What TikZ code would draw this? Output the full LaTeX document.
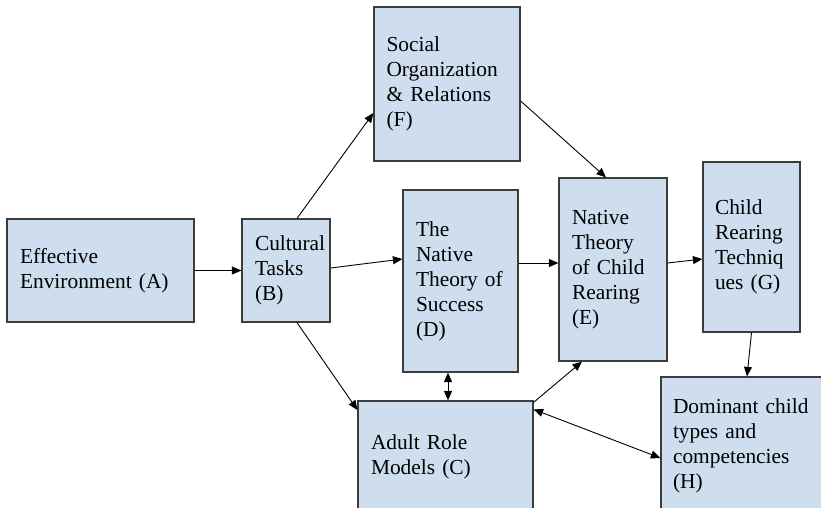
\documentclass[tikz,border=0pt]{standalone}
\usepackage{fontspec}
\setmainfont{Liberation Serif}
\usetikzlibrary{arrows.meta}
\definecolor{boxfill}{RGB}{207,222,238}
\definecolor{boxline}{RGB}{60,60,60}
\tikzset{
  card/.style={draw=boxline, line width=1.2pt, fill=boxfill, inner xsep=13pt, inner ysep=0pt,
    align=left, font=\fontsize{21.4}{25}\selectfont, anchor=center},
  link/.style={line width=0.9pt, draw=black, -{Triangle[length=9.5pt,width=8pt]}},
  duallink/.style={line width=0.9pt, draw=black, {Triangle[length=9.5pt,width=8pt]}-{Triangle[length=9.5pt,width=8pt]}}
}
\begin{document}
\begin{tikzpicture}[x=1pt,y=-1pt]
\useasboundingbox (0,0) rectangle (821,507);
\node[card, minimum width=187pt, minimum height=103pt, text width=161pt] (A) at (100.5,270.5) {Effective\\Environment (A)};
\node[card, minimum width=88pt, minimum height=103pt, text width=62pt] (B) at (286,270.5) {Cultural\\Tasks\\(B)};
\node[card, minimum width=146pt, minimum height=154pt, text width=121pt, inner xsep=12pt] (F) at (447,84) {Social\\Organization\\\& Relations\\(F)};
\node[card, minimum width=115pt, minimum height=182pt, text width=89pt] (D) at (460.5,281) {The\\Native\\Theory of\\Success\\(D)};
\node[card, minimum width=108pt, minimum height=183pt, text width=82pt] (E) at (613,269.5) {Native\\Theory\\of Child\\Rearing\\(E)};
\node[card, minimum width=97pt, minimum height=170pt, text width=73pt, inner xsep=12pt] (G) at (751.5,247) {Child\\Rearing\\Techniq\\ues (G)};
\node[card, minimum width=175pt, minimum height=111pt, text width=149pt] (C) at (445.5,456.5) {Adult Role\\Models (C)};
\node[card, minimum width=169pt, minimum height=138pt, text width=145pt, inner xsep=12pt] (H) at (745.5,446) {Dominant child\\types and\\competencies\\(H)};

\draw[link] (A.east) -- (B.west);
\draw[link] ([xshift=11pt]B.north) -- ([yshift=-29pt]F.west);
\draw[link] ([yshift=2.5pt]B.east) -- ([yshift=22pt]D.west);
\draw[link] ([xshift=11pt]B.south) -- ([yshift=46.5pt]C.west);
\draw[link] ([yshift=-17pt]F.east) -- ([xshift=-7pt]E.north);
\draw[link] ([yshift=18pt]D.east) -- ([yshift=6.5pt]E.west);
\draw[duallink] ([xshift=-12.5pt]D.south) -- ([xshift=2.5pt]C.north);
\draw[link] ([yshift=-2pt]C.north east) -- ([xshift=-31pt]E.south);
\draw[link] ([yshift=6.5pt]E.east) -- ([yshift=-12pt]G.west);
\draw[link] (G.south) -- ([xshift=1.5pt]H.north);
\draw[duallink] ([yshift=-9pt]C.north east) -- ([yshift=-12pt]H.west);
\end{tikzpicture}
\end{document}
